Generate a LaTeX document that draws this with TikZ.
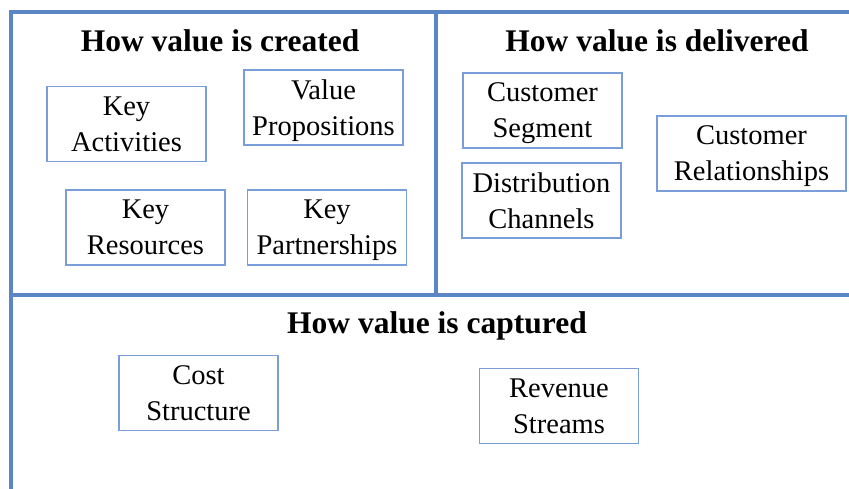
\documentclass[tikz,border=0pt]{standalone}
\usepackage{fontspec}
\setmainfont{Liberation Serif}
\usepackage{tikz}
\usetikzlibrary{positioning}
\usepackage{xcolor}
\definecolor{frameblue}{RGB}{91,134,197}
\definecolor{boxblue}{RGB}{122,158,218}

\begin{document}
\begin{tikzpicture}[x=1pt, y=-1pt]
      % Styles
      \tikzset{frame/.style={draw=frameblue, line width=4pt}}
      \tikzset{block/.style={draw=boxblue, line width=1.3pt, minimum width=159pt, minimum height=75pt, inner sep=0pt, text depth=0pt, align=center, font=\fontsize{28.5}{36}\selectfont}}
      \tikzset{heading/.style={anchor=base, font=\fontsize{31.5}{36}\selectfont\bfseries}}

      \useasboundingbox (0,0) rectangle (849,489);

      % --- The frame: three areas ---
      \coordinate (topright) at (849,12);
      \coordinate (topleft) at (11,12);
      \coordinate (bottomleft) at (11,489);
      \coordinate (midleft) at (11,295);
      \coordinate (midright) at (849,295);
      \coordinate (splittop) at (436,12);
      \coordinate (splitbottom) at (436,295);
      \draw[frame] (topright) -- (topleft) -- (bottomleft);
      \draw[frame] (midleft) -- (midright);
      \draw[frame] (splittop) -- (splitbottom);

      % --- Headings ---
      \node[heading] (created) at (220,52) {How value is created};
      \node[heading] (delivered) at (657,52) {How value is delivered};
      \node[heading] (captured) at (437,333) {How value is captured};

      % --- How value is created ---
      \node[block] (keyact) at (126.5,124) {Key\\Activities};
      \node[block] (valprop) at (323.5,107.5) {Value\\Propositions};
      \node[block] (keyres) at (145.5,227.5) {Key\\Resources};
      \node[block] (keypart) at (327,227.5) {Key\\Partnerships};

      % --- How value is delivered ---
      \node[block] (custseg) at (542.5,110.5) {Customer\\Segment};
      \node[block] (distch) at (541.5,200.5) {Distribution\\Channels};
      \node[block, minimum width=189pt] (custrel) at (751.5,153.5) {Customer\\Relationships};

      % --- How value is captured ---
      \node[block] (cost) at (198.5,393) {Cost\\Structure};
      \node[block] (revenue) at (559,406) {Revenue\\Streams};

    \end{tikzpicture}
\end{document}
